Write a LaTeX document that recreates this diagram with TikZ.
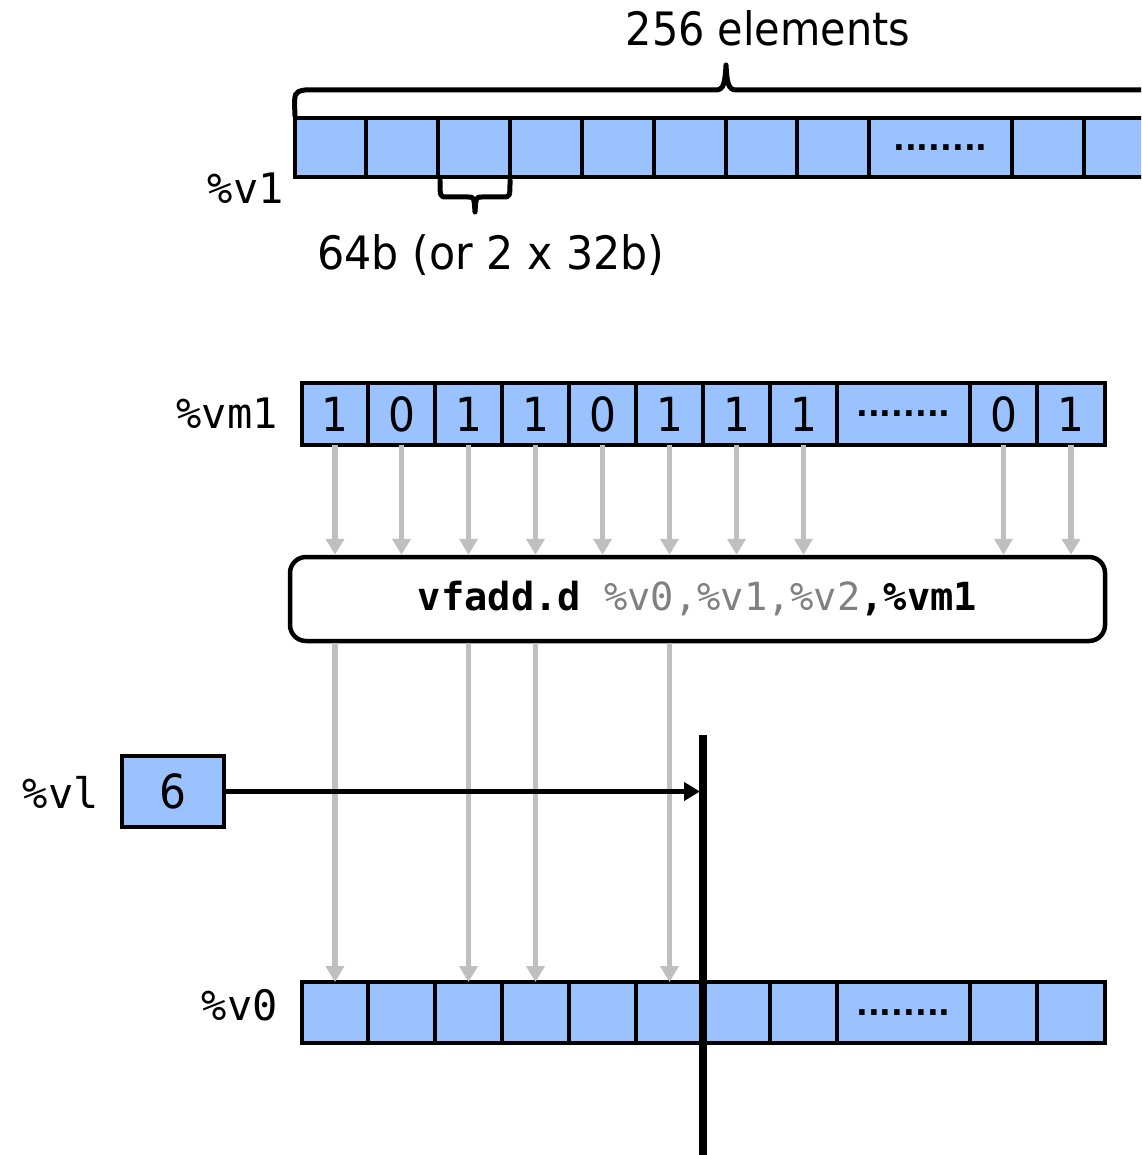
\documentclass[tikz,border=0pt]{standalone}
\usepackage{fontspec}
\setmainfont[FakeStretch=0.9]{DejaVu Sans}
\newfontfamily\widef[FakeStretch=0.93]{DejaVu Sans}
\newfontfamily\monof{DejaVu Sans Mono}
\newfontfamily\dotf{DejaVu Sans}
\usetikzlibrary{arrows.meta}
\definecolor{cellblue}{RGB}{153,194,255}
\definecolor{arrgray}{RGB}{191,191,191}
\definecolor{txtgray}{RGB}{128,128,128}
\tikzset{
  cellbox/.style={draw=black, fill=cellblue, line width=4pt, inner sep=0pt, outer sep=0pt},
  reglabel/.style={font=\monof\fontsize{42}{46}\selectfont, inner sep=0pt, anchor=east},
  bitstyle/.style={font=\fontsize{47}{50}\selectfont},
  dotstyle/.style={font=\dotf\bfseries\fontsize{31}{33}\selectfont, inner sep=0pt},
  grayarrow/.style={draw=arrgray, line width=5.5pt, -{Triangle[width=18pt,length=16pt]}},
  bracestyle/.style={draw=black, line width=5pt, line cap=round, line join=round},
  sanslabel/.style={font=\fontsize{46}{50}\selectfont, inner sep=0pt}
}
\begin{document}
\begin{tikzpicture}[x=1pt,y=-1pt]
\useasboundingbox (0,0) rectangle (1141,1155);
\clip (0,0) rectangle (1141,1155);

% ---- top register %v1
\foreach \i/\a/\b in {1/295/366,2/366/438,3/438/510,4/510/582,5/582/654,6/654/726,7/726/797,8/797/869,9/869/1012,10/1012/1084,11/1084/1156}
  \node[cellbox, minimum width={\b-\a}, minimum height=59] (t\i) at ({(\a+\b)/2},147.5) {};
\node[dotstyle, anchor=base] (tdots) at (t9.center |- 0,151) {........};
\node[reglabel] (lv1) at (284,188) {\%v1};

% braces
\draw[bracestyle] (295,116) .. controls (294,92) .. (305,90) -- (716,90)
  .. controls (724,90) and (725,82) .. (726,65)
  .. controls (727,82) and (728,90) .. (736,90) -- (1170,90);
\draw[bracestyle] (440,180) .. controls (440,197) .. (447,197) -- (468,197)
  .. controls (474,197) .. (475,212)
  .. controls (476,197) .. (482,197) -- (503,197) .. controls (510,197) .. (510,180);
\node[sanslabel] (elems) at (768,28) {256 elements};
\node[sanslabel, font=\widef\fontsize{46}{50}\selectfont] (bits) at (491,255) {64b (or 2 x 32b)};

% ---- mask register %vm1
\foreach \i/\a/\b/\v in {1/302/368/1,2/368/435/0,3/435/502/1,4/502/569/1,5/569/636/0,6/636/703/1,7/703/770/1,8/770/837/1,9/837/970/{},10/970/1037/0,11/1037/1105/1}
  \node[cellbox, bitstyle, minimum width={\b-\a}, minimum height=62] (m\i) at ({(\a+\b)/2},414) {\v};
\node[dotstyle, anchor=base] (mdots) at (m9.center |- 0,416) {........};
\node[reglabel] (lvm1) at (278,413) {\%vm1};

% ---- instruction box
\node[draw=black, line width=4.5pt, rounded corners=16pt, minimum width=815, minimum height=84, inner sep=0pt,
      font=\monof\fontsize{38.7}{42}\selectfont] (cmd) at (697.5,599)
  {\textbf{vfadd.d} {\color{txtgray}\%v0,\%v1,\%v2}\textbf{,\%vm1}};

\foreach \i in {1,2,3,4,5,6,7,8,10,11}
  \draw[grayarrow] (m\i.south) -- (m\i.south |- cmd.north);

% ---- destination register %v0
\foreach \i/\a/\b in {1/302/368,2/368/435,3/435/502,4/502/569,5/569/636,6/636/703,7/703/770,8/770/837,9/837/970,10/970/1037,11/1037/1105}
  \node[cellbox, minimum width={\b-\a}, minimum height=61] (o\i) at ({(\a+\b)/2},1012.5) {};
\node[dotstyle, anchor=base] (odots) at (o9.center |- 0,1015) {........};
\node[reglabel] (lv0) at (278,1005) {\%v0};

\foreach \i in {1,3,4,6}
  \draw[grayarrow] (o\i.north |- cmd.south) -- (o\i.north);

% ---- vector length
\node[cellbox, bitstyle, minimum width=102, minimum height=71] (vl) at (173,791.5) {6};
\node[reglabel] (lvl) at (99,792) {\%vl};
\coordinate (vtop) at (703,735);
\coordinate (vbot) at (703,1160);
\draw[line width=8pt] (vtop) -- (vbot);
\draw[line width=5pt, -{Triangle[width=18pt,length=16pt]}] (vl.east) -- (vl.east -| 700,0);
\end{tikzpicture}
\end{document}
